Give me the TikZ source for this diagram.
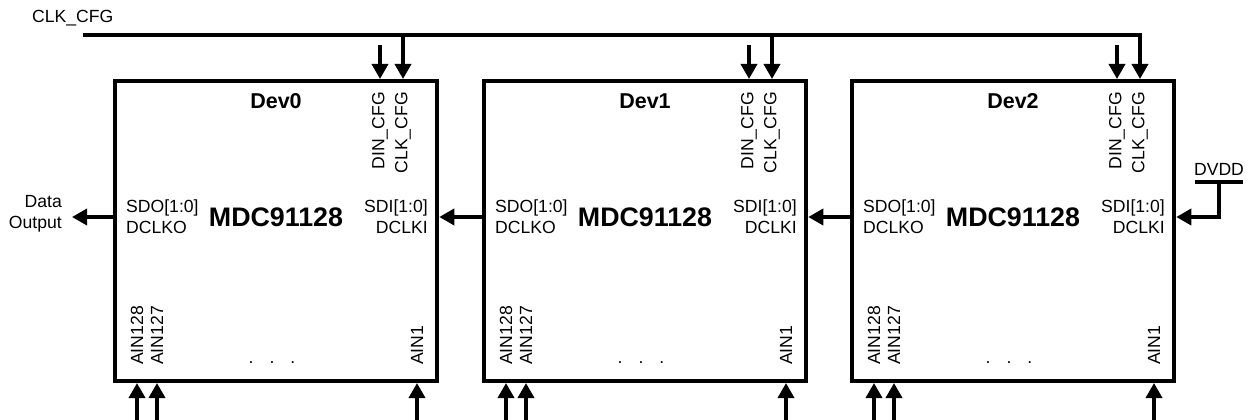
\documentclass[tikz,border=0pt]{standalone}
\usepackage{fontspec}
\setmainfont{Liberation Sans}
\usetikzlibrary{arrows.meta,calc}
\begin{document}
\begin{tikzpicture}[x=1pt,y=-1pt,
  box/.style={draw,line width=4.5pt,minimum width=322pt,minimum height=300pt,inner sep=0pt},
  wire/.style={line width=3.5pt},
  arr/.style={wire,-{Triangle[length=15pt,width=16pt]}},
  lbl/.style={inner sep=0pt,font=\fontsize{17.6}{21}\selectfont},
  title/.style={inner sep=0pt,font=\fontsize{21.5}{25}\selectfont\bfseries},
  big/.style={inner sep=0pt,font=\fontsize{26.8}{30}\selectfont\bfseries}]
\useasboundingbox (0,0) rectangle (1250,420);
\coordinate (bus) at (83,35);
\coordinate (sy) at (0,217);
\coordinate (bot) at (0,421);
\node[lbl,anchor=base west] (clklbl) at (32,23) {CLK\_CFG};
\foreach \i/\x in {0/115,1/484,2/852} {
  \node[box] (dev\i) at (\x+161,231) {};
  \node[title,anchor=base] (t\i) at (\x+161,108) {Dev\i};
  \node[big,anchor=base] (m\i) at (\x+161,226) {MDC91128};
  \node[lbl,anchor=west,align=left] (sdo\i) at (\x+11,217) {SDO[1:0]\\DCLKO};
  \node[lbl,anchor=east,align=right] (sdi\i) at (\x+313,217) {SDI[1:0]\\DCLKI};
  \node[lbl,rotate=90,anchor=east] (dinl\i) at (\x+265,92) {DIN\_CFG};
  \node[lbl,rotate=90,anchor=east] (clkl\i) at (\x+288,92) {CLK\_CFG};
  \node[lbl,rotate=90,anchor=west] (a128l\i) at (\x+22,365) {AIN128};
  \node[lbl,rotate=90,anchor=west] (a127l\i) at (\x+42,365) {AIN127};
  \node[lbl,rotate=90,anchor=west] (a1l\i) at (\x+302,365) {AIN1};
  \node[lbl,anchor=base] (dots\i) at (\x+157,363) {.\hspace{16pt}.\hspace{16pt}.};
  \coordinate (dins\i) at (\x+265,45);
  \coordinate (dinp\i) at (\x+265,79);
  \coordinate (clkp\i) at (\x+288,79);
  \coordinate (p128\i) at (\x+22,383);
  \coordinate (p127\i) at (\x+42,383);
  \coordinate (p1\i) at (\x+302,383);
  \draw[arr] (dins\i) -- (dinp\i);
  \draw[arr] (p128\i |- bot) -- (p128\i);
  \draw[arr] (p127\i |- bot) -- (p127\i);
  \draw[arr] (p1\i |- bot) -- (p1\i);
}
\draw[arr] (clkp0 |- bus) -- (clkp0);
\draw[arr] (clkp1 |- bus) -- (clkp1);
\draw[arr] (bus) -- (clkp2 |- bus) -- (clkp2);
\draw[arr] (dev1.west |- sy) -- (dev0.east |- sy);
\draw[arr] (dev2.west |- sy) -- (dev1.east |- sy);
\coordinate (dout) at (72,217);
\draw[arr] (dev0.west |- sy) -- (dout);
\node[lbl,anchor=east,align=right] (doutl) at (62,214) {Data\\Output};
\coordinate (vl) at (1195,182);
\coordinate (vr) at (1243,182);
\coordinate (vt) at (1219,182);
\draw[wire] (vl) -- (vr);
\draw[arr] (vt) |- (dev2.east |- sy);
\node[lbl,anchor=base] (dvdd) at (1219,175) {DVDD};
\end{tikzpicture}
\end{document}
